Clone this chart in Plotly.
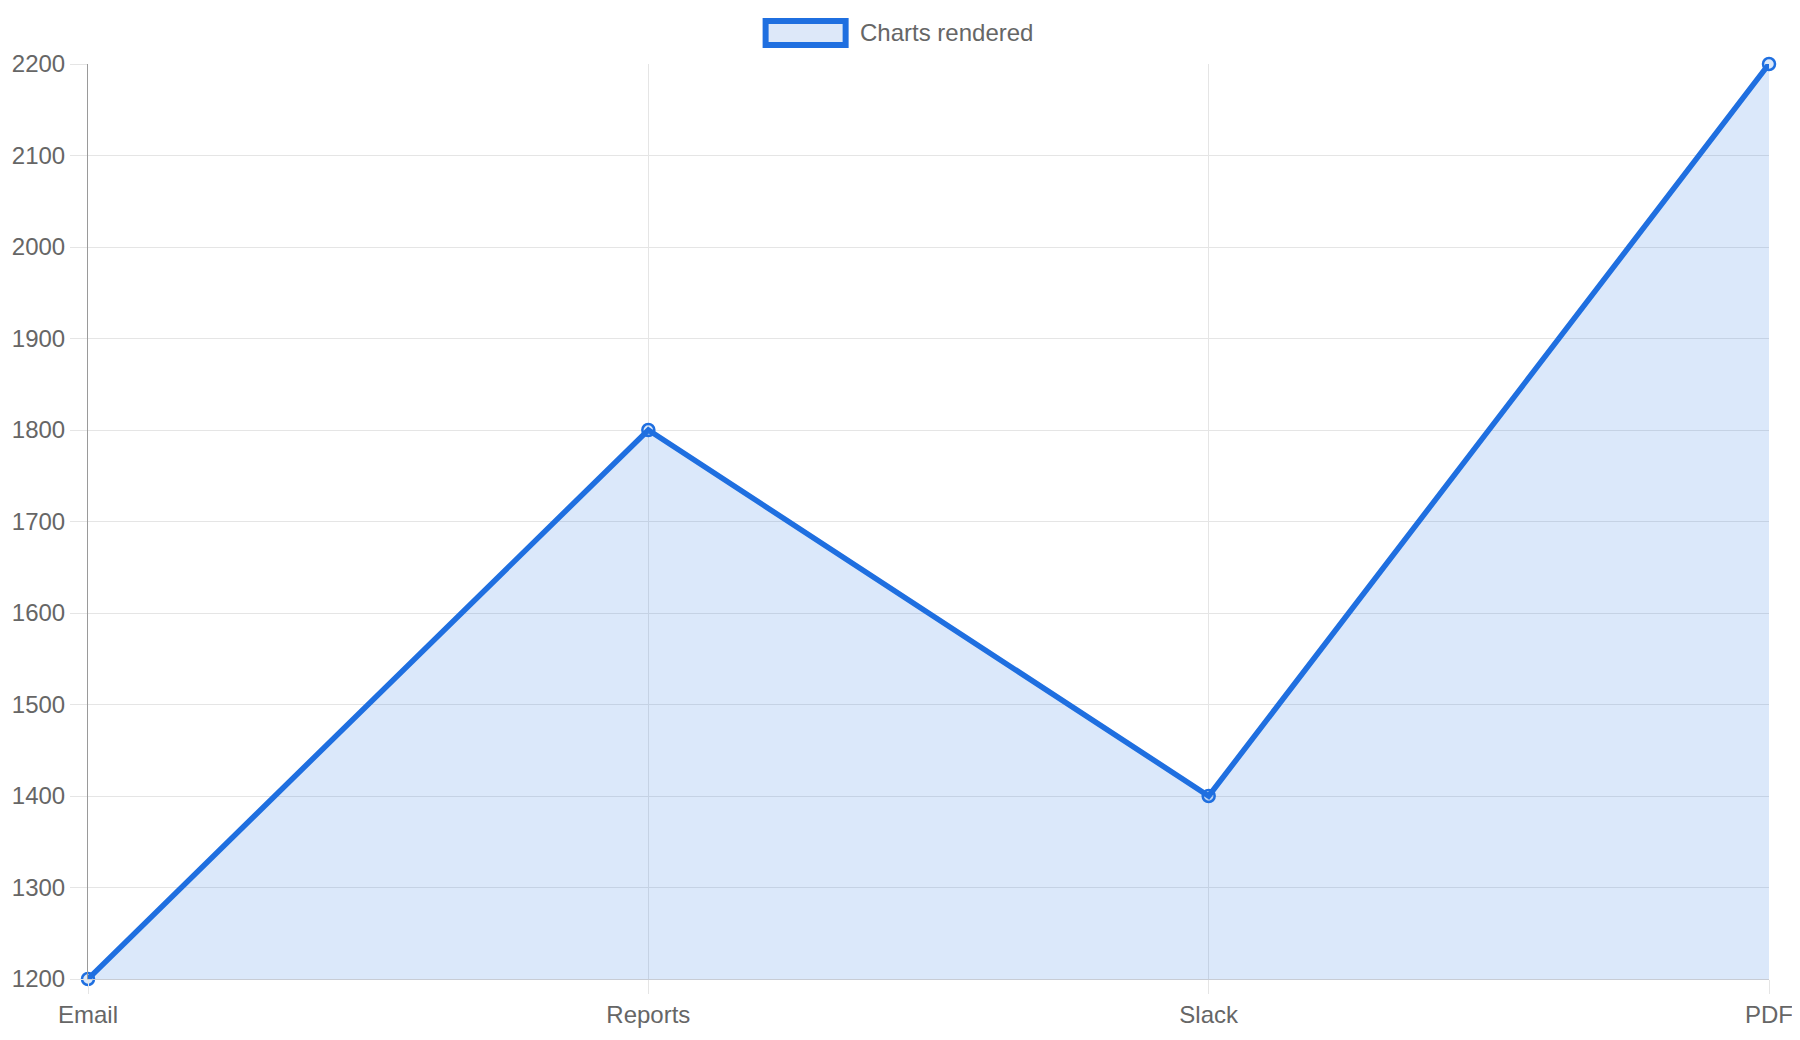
import plotly.graph_objects as go

categories = ["Email", "Reports", "Slack", "PDF"]
charts_rendered = [1200, 1800, 1400, 2200]
series_name = "Charts rendered"
y_ticks = [1200, 1300, 1400, 1500, 1600, 1700, 1800, 1900, 2000, 2100, 2200]

LINE = "#1f6fe0"
FILL = "rgba(31,111,224,0.16)"
TEXT = "#666666"
GRID = "#e5e5e5"
FONT = "Liberation Sans, Arial, sans-serif"

fig = go.Figure()
fig.add_trace(go.Scatter(
    x=categories, y=charts_rendered, name=series_name,
    mode="lines+markers", fill="tozeroy", fillcolor=FILL,
    line=dict(color=LINE, width=5.5),
    marker=dict(size=12, color="rgba(31,111,224,0.16)", line=dict(color=LINE, width=2.5)),
    cliponaxis=False, showlegend=False,
))

# Legend (custom, Chart.js style box)
fig.add_shape(type="rect", xref="paper", yref="paper",
              x0=0.4031, x1=0.4507, y0=1.0208, y1=1.0469,
              line=dict(color=LINE, width=6), fillcolor="#dde8f9", layer="above")
fig.add_annotation(xref="paper", yref="paper", x=0.4578, y=1.0339,
                   text=series_name, showarrow=False, xanchor="left", yanchor="middle",
                   font=dict(size=24, color=TEXT, family=FONT))

fig.update_layout(
    width=1800, height=1040,
    margin=dict(l=80, r=39, t=56, b=69, autoexpand=False),
    paper_bgcolor="white", plot_bgcolor="white",
    font=dict(family=FONT, size=24, color=TEXT),
    showlegend=False,
)
fig.update_xaxes(
    type="category", range=[0, 3], automargin=False,
    showgrid=True, gridcolor=GRID, gridwidth=1,
    ticks="outside", ticklen=14, tickcolor=GRID, tickwidth=1,
    showline=True, linecolor="#c8ccd4", linewidth=1,
    tickfont=dict(size=24, color=TEXT), zeroline=False,
)
fig.update_yaxes(
    range=[1200, 2200], tickvals=y_ticks, automargin=False,
    showgrid=True, gridcolor=GRID, gridwidth=1,
    ticks="outside", ticklen=17, tickcolor=GRID, tickwidth=1,
    showline=True, linecolor="#9a9a9a", linewidth=1,
    tickfont=dict(size=24, color=TEXT), zeroline=False,
)

fig.write_html("out.html")
